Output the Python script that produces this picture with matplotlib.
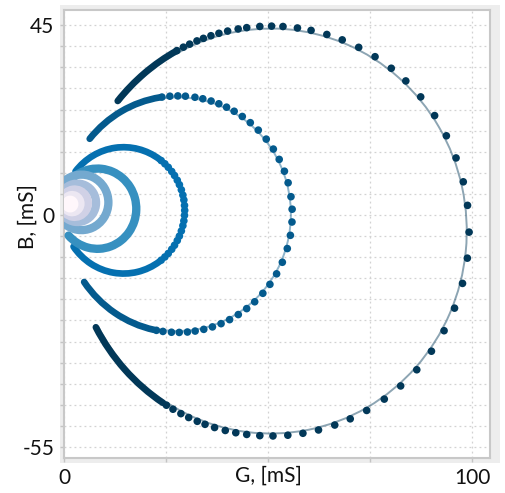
import numpy as np
import matplotlib.pyplot as plt
from matplotlib.patches import Arc, Rectangle

plt.rcParams['font.family'] = ['Lato', 'DejaVu Sans']

# circle fits (mS): centre G, centre B, radius
centre_g = [50.7, 27.9, 14.6, 8.2, 4.3, 3.3, 2.6, 2.0, 1.5]
centre_b = [-3.8, 0.2, 1.1, 1.5, 3.0, 2.9, 2.8, 2.7, 2.6]
radius = [48.0, 27.7, 14.8, 9.4, 6.5, 4.5, 3.2, 2.0, 1.0]
colors = ["#023858", "#045a8d", "#0570b0", "#3690c0", "#74a9cf",
          "#a6bddb", "#d0d1e6", "#ece7f2", "#fff7fb"]

# where each sweep starts / ends on its circle (degrees)
arc_start = [-152, -145, -145, -138, -132, -132, -132, -132, -180]
arc_end = [140.6, 140.4, 141.9, 135, 130, 130, 130, 130, 180]
# limits of the stretches where the markers run together
dense_upper = [118.5, 99, 54, 0, 0, 0, 0, 0, 0]
dense_lower = [-123, -102, -54, 0, 0, 0, 0, 0, 0]

# single markers that can be told apart (degrees on the circle)
dots_1 = [118.3, 116.2, 114.2, 111.9, 109.9, 107.6, 105.2, 102.6, 99.5, 97.0,
          93.2, 89.8, 86.5, 82.3, 78.3, 73.6, 68.9, 63.7, 58.3, 52.6, 47.1,
          40.9, 34.3, 27.7, 20.9, 13.9, 7.2, -0.3, -7.6, -14.8, -22.1, -29.1,
          -35.9, -42.6, -49.1, -55.1, -61.1, -66.4, -71.2, -76.1, -80.7,
          -85.1, -89.4, -93.2, -97.0, -100.2, -103.3, -106.5, -109.4, -111.8,
          -114.5, -117.0, -119.6, -121.8]
dots_2 = [98.0, 94.0, 90.0, 86.2, 81.4, 77.4, 73.1, 69.0, 64.8, 60.5, 55.7,
          50.7, 45.3, 39.4, 33.4, 27.6, 21.3, 15.4, 8.5, 2.4, -3.8, -10.3,
          -16.9, -24.0, -30.3, -36.4, -42.0, -47.8, -53.0, -58.1, -63.1, -67.8,
          -72.4, -76.9, -81.3, -85.2, -89.3, -93.2, -97.5, -100.8]
dots_3 = [52, 47.5, 43, 38, 33.5, 28.5, 24, 19, 14, 9.5, 4.5, 0, -4.5, -9.5,
          -14, -19, -24, -28.5, -33.5, -38, -43, -47.5, -52]
dot_angles = [dots_1, dots_2, dots_3, [], [], [], [], [], []]

x_ticks = [0, 25, 50, 75, 100]
x_tick_labels = ["0", "", "", "", "100"]
y_ticks = list(range(-55, 50, 5))
y_tick_labels = [str(v) if v in (-55, 0, 45) else "" for v in y_ticks]

fig = plt.figure(figsize=(5.05, 4.93), dpi=100)
fig.patches.append(Rectangle((60 / 505, 30 / 493), 440 / 505, 458 / 493,
                             transform=fig.transFigure, facecolor="#ededed",
                             edgecolor="none", zorder=-5))
ax = fig.add_axes([64 / 505, 35 / 493, 426 / 505, 448 / 493])
ax.set_zorder(2)
ax.set_facecolor("white")

for i in range(len(radius)):
    cg, cb, r, col = centre_g[i], centre_b[i], radius[i], colors[i]
    band_w = 4.8 if i < 3 else 6.0
    # fitted circle
    ax.add_patch(Arc((cg, cb), 2 * r, 2 * r, theta1=arc_start[i], theta2=arc_end[i],
                     color=col, alpha=0.45, lw=1.4, zorder=2))
    # dense ends of the sweep
    rr = 2 * r * 1.012
    if dense_upper[i] == 0:
        ax.add_patch(Arc((cg, cb), rr, rr, theta1=arc_start[i], theta2=arc_end[i],
                         color=col, lw=band_w, capstyle="round", zorder=3))
    else:
        ax.add_patch(Arc((cg, cb), rr, rr, theta1=dense_upper[i], theta2=arc_end[i],
                         color=col, lw=band_w, capstyle="round", zorder=3))
        ax.add_patch(Arc((cg, cb), rr, rr, theta1=arc_start[i], theta2=dense_lower[i],
                         color=col, lw=band_w, capstyle="round", zorder=3))
    a = np.radians(dot_angles[i])
    if len(a):
        ax.scatter(cg + r * 1.012 * np.cos(a), cb + r * 1.012 * np.sin(a),
                   s=30, color=col, edgecolors="none", zorder=4)

ax.set_xlim(0, 104.4)
ax.set_ylim(-57.6, 48.6)
ax.set_xticks(x_ticks)
ax.set_xticklabels(x_tick_labels)
ax.set_yticks(y_ticks)
ax.set_yticklabels(y_tick_labels)
ax.tick_params(length=3, width=1, color="#c4c4c4", labelsize=15, pad=4,
               labelcolor="#111111")
ax.grid(True, color="#d2d2d2", linestyle=(0, (1.5, 2.5)), lw=0.9, zorder=0)
ax.set_axisbelow(True)
for side in ax.spines:
    ax.spines[side].set_color("#c8c8c8")
    ax.spines[side].set_linewidth(1.5)

ax.set_xlabel("G, [mS]", fontsize=15, color="#111111")
ax.set_ylabel("B, [mS]", fontsize=15, color="#111111")
ax.xaxis.set_label_coords(0.48, -0.017)
ax.xaxis.label.set_va("top")
ax.yaxis.set_label_coords(-0.062, 0.538)

fig.savefig("out.png", dpi=100)
